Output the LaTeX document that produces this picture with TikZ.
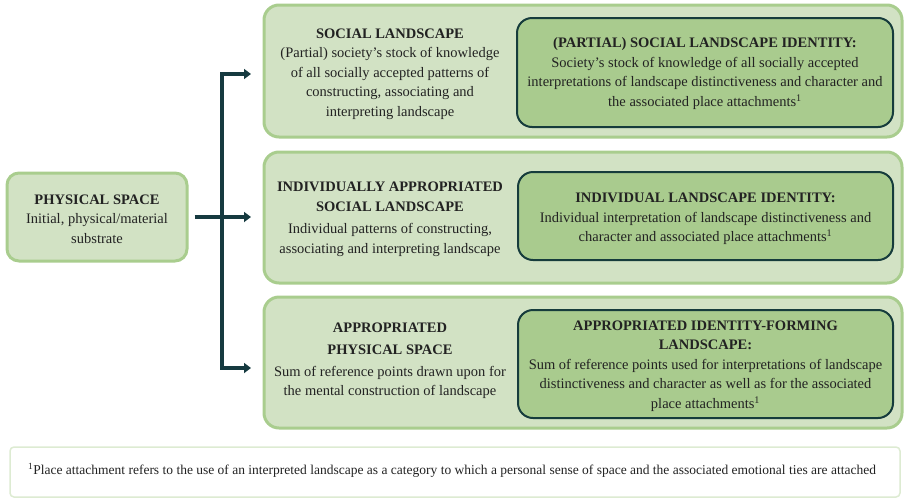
\documentclass[tikz,border=0pt]{standalone}
\usepackage{fontspec}
\setmainfont{Liberation Serif}
\usetikzlibrary{arrows.meta}
\definecolor{outerfill}{HTML}{D2E2C4}
\definecolor{outerline}{HTML}{A9CD8E}
\definecolor{innerfill}{HTML}{A9CB8E}
\definecolor{innerline}{HTML}{163C3C}
\definecolor{arrowcol}{HTML}{163A40}
\definecolor{textcol}{HTML}{222222}
\tikzset{
  outerbox/.style={draw=outerline, fill=outerfill, line width=3pt, rounded corners=15pt},
  innerbox/.style={draw=innerline, fill=innerfill, line width=2pt, rounded corners=15pt},
  physbox/.style={draw=outerline, fill=outerfill, line width=3pt, rounded corners=12pt},
  footbox/.style={draw=outerline!40, fill=white, line width=1.5pt, rounded corners=4pt},
  txt/.style={align=center, text=textcol, font=\fontsize{14.5}{19.5}\selectfont, inner sep=0pt},
  flow/.style={draw=arrowcol, line width=3.5pt, -{Triangle[length=7pt,width=10pt]}},
  flowline/.style={draw=arrowcol, line width=3.5pt}
}
\begin{document}
\begin{tikzpicture}[x=1pt,y=-1pt]
\useasboundingbox (0,0) rectangle (904,501);
% boxes
\node[physbox, minimum width=180pt, minimum height=88pt] (phys) at (97,217) {};
\node[txt] (physT) at (97,219) {\textbf{PHYSICAL SPACE}\\Initial, physical/material\\substrate};

\node[outerbox, minimum width=638pt, minimum height=132pt] (o1) at (583,71) {};
\node[innerbox, minimum width=376pt, minimum height=109pt] (i1) at (705,72.5) {};
\node[txt] (o1T) at (390,74) {\textbf{SOCIAL LANDSCAPE}\\(Partial) society's stock of knowledge\\of all socially accepted patterns of\\constructing, associating and\\interpreting landscape};
\node[txt] (i1T) at (705,73.5) {\textbf{(PARTIAL) SOCIAL LANDSCAPE IDENTITY:}\\Society's stock of knowledge of all socially accepted\\interpretations of landscape distinctiveness and character and\\the associated place attachments\textsuperscript{1}};

\node[outerbox, minimum width=638pt, minimum height=131pt] (o2) at (583,217.5) {};
\node[innerbox, minimum width=375pt, minimum height=88pt] (i2) at (705.5,216) {};
\node[txt] (o2T) at (390,219.5) {\textbf{INDIVIDUALLY APPROPRIATED}\\\textbf{SOCIAL LANDSCAPE}\\[3pt]Individual patterns of constructing,\\associating and interpreting landscape};
\node[txt] (i2T) at (705.5,219) {\textbf{INDIVIDUAL LANDSCAPE IDENTITY:}\\Individual interpretation of landscape distinctiveness and\\character and associated place attachments\textsuperscript{1}};

\node[outerbox, minimum width=638pt, minimum height=131pt] (o3) at (583,362.5) {};
\node[innerbox, minimum width=375pt, minimum height=108pt] (i3) at (705.5,364) {};
\node[txt] (o3T) at (390,360.5) {\textbf{APPROPRIATED}\\[3pt]\textbf{PHYSICAL SPACE}\\[2pt]Sum of reference points drawn upon for\\the mental construction of landscape};
\node[txt] (i3T) at (705.5,366) {\textbf{APPROPRIATED IDENTITY-FORMING}\\\textbf{LANDSCAPE:}\\Sum of reference points used for interpretations of landscape\\distinctiveness and character as well as for the associated\\place attachments\textsuperscript{1}};

\node[footbox, minimum width=890pt, minimum height=50pt] (foot) at (455,472) {};
\node[txt, font=\fontsize{13.5}{16}\selectfont] (footT) at (452,470) {\textsuperscript{1}Place attachment refers to the use of an interpreted landscape as a category to which a personal sense of space and the associated emotional ties are attached};

% connectors
\coordinate (jt) at (222,74);
\coordinate (jb) at (222,368);
\coordinate (e1) at (251,74);
\coordinate (e2) at (251,217);
\coordinate (e3) at (251,368);
\draw[flowline] ([yshift=-1.75pt]jt) -- ([yshift=1.75pt]jb);
\draw[flow] (phys.east) ++(6pt,0) -- (e2);
\draw[flow] ([xshift=-1.75pt]jt) -- (e1);
\draw[flow] ([xshift=-1.75pt]jb) -- (e3);
\end{tikzpicture}
\end{document}
